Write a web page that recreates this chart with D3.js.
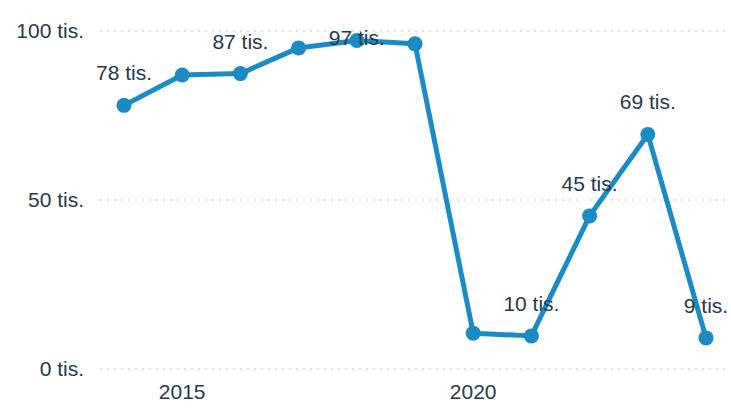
<!DOCTYPE html>
<meta charset="utf-8">
<style>
html, body {
  margin: 0;
  overflow: hidden;
  width: 100%;
  height: 100%;
  background: #fff;
}
text {
  font-family: "Liberation Sans", Arial, sans-serif;
  fill: #27394c;
}
</style>
<body>
<script src="https://d3js.org/d3.v7.min.js"></script>
<script>
var years = [2014, 2015, 2016, 2017, 2018, 2019, 2020, 2021, 2022, 2023, 2024];
var values = [78, 87.0, 87.4, 95, 97.2, 96.2, 10.6, 9.8, 45.3, 69.4, 9.2];
var labelYears = [2014, 2016, 2018, 2021, 2022, 2023, 2024];
var yTicks = [0, 50, 100];
var xTicks = [2015, 2020];

var width = 731,
    height = 411;

var x = d3.scaleLinear().domain([2014, 2024]).range([124, 706]);
var y = d3.scaleLinear().domain([0, 100]).range([369, 31]);

var svg = d3.select("body").append("svg")
    .attr("width", width)
    .attr("height", height);

// grid
svg.selectAll(".grid").data(yTicks).enter().append("line")
    .attr("x1", 100).attr("x2", 726)
    .attr("y1", function(d) { return y(d); })
    .attr("y2", function(d) { return y(d); })
    .attr("stroke", "#c8c8c8")
    .attr("stroke-width", 1.2)
    .attr("stroke-dasharray", "2,5");

// y labels
svg.selectAll(".ylab").data(yTicks).enter().append("text")
    .attr("x", 84)
    .attr("y", function(d) { return y(d) + 7; })
    .attr("text-anchor", "end")
    .attr("font-size", 21)
    .text(function(d) { return d + " tis."; });

// x labels
svg.selectAll(".xlab").data(xTicks).enter().append("text")
    .attr("x", function(d) { return x(d); })
    .attr("y", 399)
    .attr("text-anchor", "middle")
    .attr("font-size", 21)
    .text(function(d) { return d; });

var data = years.map(function(yr, i) { return {year: yr, value: values[i]}; });

var line = d3.line()
    .x(function(d) { return x(d.year); })
    .y(function(d) { return y(d.value); });

svg.append("path")
    .datum(data)
    .attr("d", line)
    .attr("fill", "none")
    .attr("stroke", "#1b8bc6")
    .attr("stroke-width", 5)
    .attr("stroke-linejoin", "round");

svg.selectAll(".dot").data(data).enter().append("circle")
    .attr("cx", function(d) { return x(d.year); })
    .attr("cy", function(d) { return y(d.value); })
    .attr("r", 7.5)
    .attr("fill", "#1b8bc6");

// value labels, kept inside the plot top
svg.selectAll(".vlab").data(data.filter(function(d) { return labelYears.indexOf(d.year) >= 0; }))
  .enter().append("text")
    .attr("x", function(d) { return x(d.year); })
    .attr("y", function(d) { return Math.max(y(d.value) - 25, 45); })
    .attr("text-anchor", "middle")
    .attr("font-size", 21)
    .text(function(d) { return Math.round(d.value) + " tis."; });
</script>
</body>
